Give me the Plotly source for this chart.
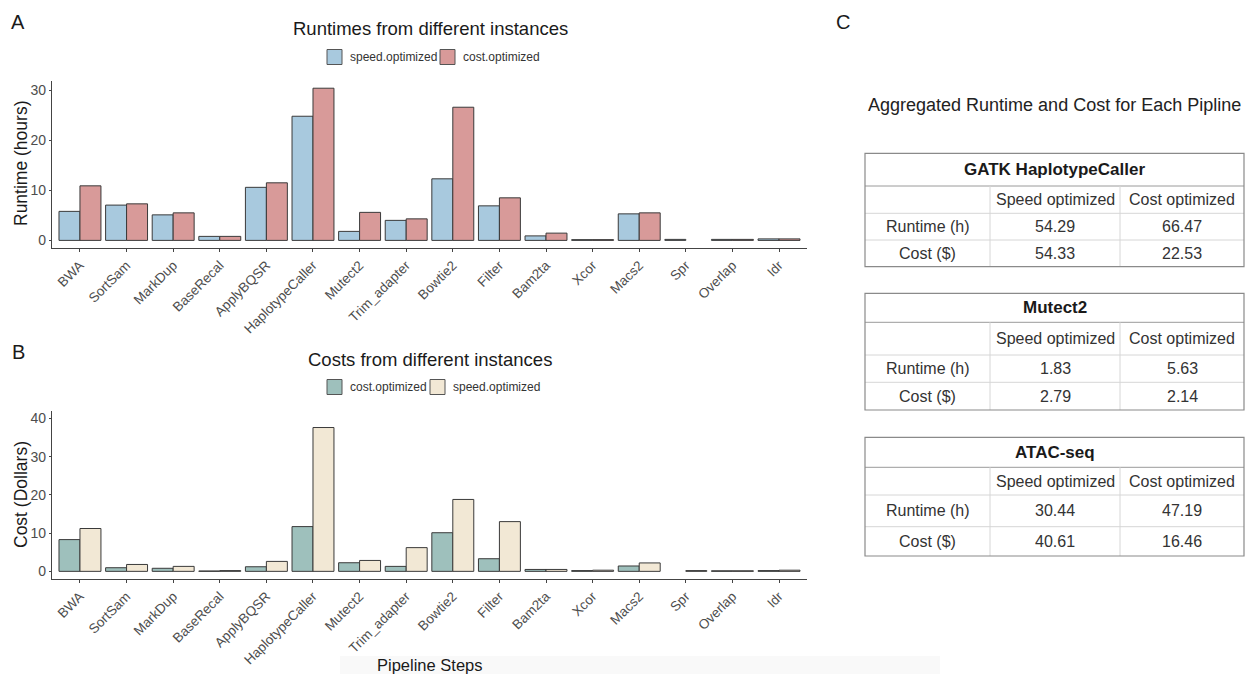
import plotly.graph_objects as go

W, H = 1247, 674

steps = ["BWA", "SortSam", "MarkDup", "BaseRecal", "ApplyBQSR", "HaplotypeCaller", "Mutect2",
         "Trim_adapter", "Bowtie2", "Filter", "Bam2ta", "Xcor", "Macs2", "Spr", "Overlap", "Idr"]

runtime_speed = [5.8, 7.05, 5.1, 0.8, 10.6, 24.8, 1.8, 4.0, 12.3, 6.9, 0.9, 0.15, 5.3, 0.2, 0.2, 0.3]
runtime_cost = [10.9, 7.3, 5.5, 0.8, 11.5, 30.4, 5.6, 4.3, 26.6, 8.5, 1.45, 0.15, 5.5, None, 0.2, 0.3]

cost_cost = [8.3, 0.95, 0.8, 0.1, 1.2, 11.7, 2.25, 1.3, 10.1, 3.3, 0.5, 0.2, 1.4, None, 0.15, 0.2]
cost_speed = [11.2, 1.8, 1.3, 0.2, 2.6, 37.6, 2.85, 6.2, 18.8, 13.0, 0.5, 0.3, 2.2, 0.2, 0.15, 0.3]

runtime_ticks = [0, 10, 20, 30]
cost_ticks = [0, 10, 20, 30, 40]

table_titles = ["GATK HaplotypeCaller", "Mutect2", "ATAC-seq"]
col_headers = ["Speed optimized", "Cost optimized"]
row_labels = ["Runtime (h)", "Cost ($)"]
agg_runtime_speed = ["54.29", "1.83", "30.44"]
agg_runtime_cost = ["66.47", "5.63", "47.19"]
agg_cost_speed = ["54.33", "2.79", "40.61"]
agg_cost_cost = ["22.53", "2.14", "16.46"]

FONT = "Liberation Sans, Arial, Helvetica, sans-serif"
BLUE, RED = "#A8C9DE", "#D89A99"
TEAL, BEIGE = "#9EC0BC", "#F2E8D5"
OUTLINE = "#3a3a3a"


def px(x):
    return x / W


def py(y):
    return 1 - y / H


fig = go.Figure()

line = dict(color=OUTLINE, width=1)
fig.add_trace(go.Bar(x=steps, y=runtime_speed, name="speed.optimized", marker=dict(color=BLUE, line=line),
                     xaxis="x", yaxis="y"))
fig.add_trace(go.Bar(x=steps, y=runtime_cost, name="cost.optimized", marker=dict(color=RED, line=line),
                     xaxis="x", yaxis="y"))
fig.add_trace(go.Bar(x=steps, y=cost_cost, name="cost.optimized", marker=dict(color=TEAL, line=line),
                     xaxis="x2", yaxis="y2"))
fig.add_trace(go.Bar(x=steps, y=cost_speed, name="speed.optimized", marker=dict(color=BEIGE, line=line),
                     xaxis="x2", yaxis="y2"))

axis_common = dict(showline=True, linecolor="#444", linewidth=1.4, ticks="outside", ticklen=3,
                   tickcolor="#444", tickwidth=1.1, showgrid=False, zeroline=False)
xtick_font = dict(family=FONT, size=13.5, color="#4d4d4d")
ytick_font = dict(family=FONT, size=14, color="#4d4d4d")

xdom = [px(52), px(807)]
fig.update_layout(
    width=W, height=H,
    margin=dict(l=0, r=0, t=0, b=0),
    paper_bgcolor="white", plot_bgcolor="white",
    barmode="group", bargap=0.1, bargroupgap=0,
    font=dict(family=FONT, color="#333"),
    showlegend=False,
    xaxis=dict(domain=xdom, anchor="y", range=[-0.6, 15.6], tickangle=-45, tickfont=xtick_font,
               **axis_common),
    yaxis=dict(domain=[py(248), py(80.7)], anchor="x", range=[-1.52, 31.9], tickvals=runtime_ticks,
               tickfont=ytick_font, **axis_common),
    xaxis2=dict(domain=xdom, anchor="y2", range=[-0.6, 15.6], tickangle=-45, tickfont=xtick_font,
                **axis_common),
    yaxis2=dict(domain=[py(579), py(410.7)], anchor="x2", range=[-2.0, 42.0], tickvals=cost_ticks,
                tickfont=ytick_font, **axis_common),
)
fig.update_yaxes(ticklen=2)

ann = []
shapes = []


def text(x, y, s, size, color="#1a1a1a", bold=False, angle=0, xanchor="center"):
    ann.append(dict(x=px(x), y=py(y), xref="paper", yref="paper", text=f"<b>{s}</b>" if bold else s,
                    showarrow=False, xanchor=xanchor, yanchor="middle", textangle=angle,
                    font=dict(family=FONT, size=size, color=color)))


def legend_key(x0, yc, color, label):
    shapes.append(dict(type="rect", xref="paper", yref="paper", x0=px(x0), x1=px(x0 + 15),
                       y0=py(yc + 7.5), y1=py(yc - 7.5), fillcolor=color,
                       line=dict(color="#555", width=1)))
    text(x0 + 21, yc, label, 12, color="#333", xanchor="left")


# panel labels and titles
text(18, 22, "A", 20)
text(18, 352, "B", 20)
text(843, 22, "C", 20)
text(430, 29, "Runtimes from different instances", 18.5)
text(430, 359, "Costs from different instances", 18.5)
text(21, 164, "Runtime (hours)", 17.5, color="#1a1a1a", angle=-90)
text(21, 495, "Cost (Dollars)", 17.5, color="#1a1a1a", angle=-90)
text(430, 665, "Pipeline Steps", 16.5)
text(1054, 105, "Aggregated Runtime and Cost for Each Pipline", 18, color="#222")

# legends
legend_key(327, 57, BLUE, "speed.optimized")
legend_key(440, 57, RED, "cost.optimized")
legend_key(327, 387, TEAL, "cost.optimized")
legend_key(430, 387, BEIGE, "speed.optimized")

# faint band at bottom
shapes.append(dict(type="rect", xref="paper", yref="paper", x0=px(340), x1=px(940), y0=0, y1=py(656),
                   fillcolor="#f9f9f9", line=dict(width=0), layer="below"))

# tables
row_bounds = [[153.3, 186, 213.3, 240, 266.7],
              [293.3, 322.3, 355, 382.3, 410],
              [437.3, 467.3, 495, 526.7, 556]]
cols = [865, 990, 1120, 1244]
inner = "#d6d6d6"
for t, rb in enumerate(row_bounds):
    top, bot = rb[0], rb[-1]
    for k, yy in enumerate(rb[1:-1]):
        shapes.append(dict(type="line", xref="paper", yref="paper", x0=px(cols[0]), x1=px(cols[-1]),
                           y0=py(yy), y1=py(yy), line=dict(color="#9a9a9a" if k == 0 else inner, width=1)))
    for xx in cols[1:-1]:
        shapes.append(dict(type="line", xref="paper", yref="paper", x0=px(xx), x1=px(xx),
                           y0=py(rb[1]), y1=py(bot), line=dict(color=inner, width=1)))
    shapes.append(dict(type="rect", xref="paper", yref="paper", x0=px(cols[0]), x1=px(cols[-1]),
                       y0=py(bot), y1=py(top), line=dict(color="#8a8a8a", width=1.2)))
    cx = [(cols[i] + cols[i + 1]) / 2 for i in range(3)]
    mid = [(rb[i] + rb[i + 1]) / 2 for i in range(4)]
    text((cols[0] + cols[-1]) / 2, mid[0], table_titles[t], 17, color="#1a1a1a", bold=True)
    text(cx[1], mid[1], col_headers[0], 16, color="#333")
    text(cx[2], mid[1], col_headers[1], 16, color="#333")
    text(cx[0], mid[2], row_labels[0], 16, color="#333")
    text(cx[1], mid[2], agg_runtime_speed[t], 16, color="#333")
    text(cx[2], mid[2], agg_runtime_cost[t], 16, color="#333")
    text(cx[0], mid[3], row_labels[1], 16, color="#333")
    text(cx[1], mid[3], agg_cost_speed[t], 16, color="#333")
    text(cx[2], mid[3], agg_cost_cost[t], 16, color="#333")

fig.update_layout(annotations=ann, shapes=shapes)
fig.write_html("out.html")
